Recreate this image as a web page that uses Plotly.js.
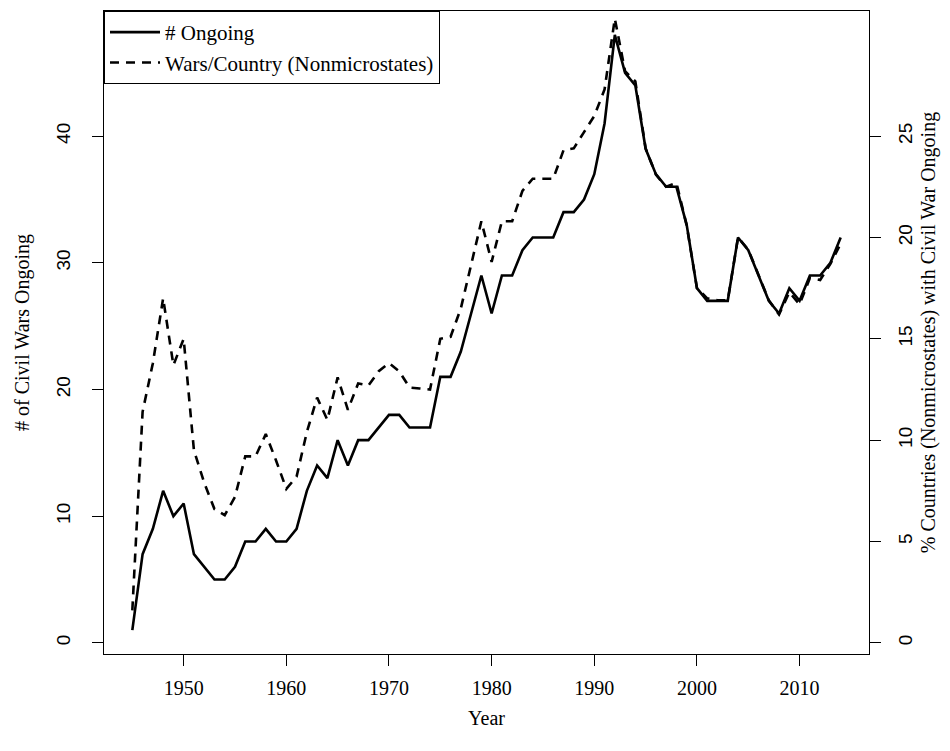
<!DOCTYPE html>
<html>
<head>
<meta charset="utf-8">
<script src="https://cdn.plot.ly/plotly-3.0.1.min.js"></script>
<style>html,body{margin:0;padding:0;background:#fff}#chart{width:950px;height:751px}</style>
</head>
<body>
<div id="chart"></div>
<script>
var years = [1945,1946,1947,1948,1949,1950,1951,1952,1953,1954,1955,1956,1957,1958,1959,1960,1961,1962,1963,1964,1965,1966,1967,1968,1969,1970,1971,1972,1973,1974,1975,1976,1977,1978,1979,1980,1981,1982,1983,1984,1985,1986,1987,1988,1989,1990,1991,1992,1993,1994,1995,1996,1997,1998,1999,2000,2001,2002,2003,2004,2005,2006,2007,2008,2009,2010,2011,2012,2013,2014];
var ongoing = [1,7,9,12,10,11,7,6,5,5,6,8,8,9,8,8,9,12,14,13,16,14,16,16,17,18,18,17,17,17,21,21,23,26,29,26,29,29,31,32,32,32,34,34,35,37,41,48,45,44,39,37,36,36,33,28,27,27,27,32,31,29,27,26,28,27,29,29,30,32];
var pctCountries = [1.6,11.4,13.8,17.0,13.7,15.0,9.5,7.9,6.6,6.3,7.2,9.2,9.2,10.3,9.0,7.6,8.2,10.4,12.1,11.0,13.1,11.5,12.8,12.7,13.4,13.8,13.4,12.6,12.55,12.5,15.0,15.1,16.5,18.7,20.8,18.8,20.8,20.8,22.3,22.9,22.9,22.9,24.3,24.4,25.2,26.0,27.3,30.8,28.2,27.7,24.4,23.1,22.5,22.7,20.6,17.5,17.0,16.9,16.9,20.0,19.4,18.1,16.9,16.2,17.3,16.7,18.0,17.9,18.7,19.7];
var xTicks = [1950,1960,1970,1980,1990,2000,2010];
var yTicksLeft = [0,10,20,30,40];
var yTicksRight = [0,5,10,15,20,25];

var serif = "'Liberation Serif', 'Times New Roman', serif";
var sans = "'Liberation Sans', Arial, sans-serif";

var traces = [
  {x: years, y: ongoing, type: 'scatter', mode: 'lines', name: '# Ongoing',
   line: {color: '#000', width: 2.6}, yaxis: 'y'},
  {x: years, y: pctCountries, type: 'scatter', mode: 'lines', name: 'Wars/Country (Nonmicrostates)',
   line: {color: '#000', width: 2.6, dash: '9px,7px'}, yaxis: 'y2'}
];

var layout = {
  width: 950, height: 751,
  margin: {l: 104, r: 81, t: 11, b: 97},
  paper_bgcolor: '#fff', plot_bgcolor: '#fff',
  font: {family: serif, size: 20, color: '#000'},
  showlegend: true,
  legend: {x: 0, y: 1, xanchor: 'left', yanchor: 'top', bgcolor: '#fff',
           bordercolor: '#000', borderwidth: 1, font: {family: serif, size: 21, color: '#000'},
           itemwidth: 50, tracegroupgap: 0},
  xaxis: {range: [1942.24, 2016.76], tickvals: xTicks, ticktext: xTicks.map(String),
          showgrid: false, zeroline: false, showline: true, mirror: true, linecolor: '#000', linewidth: 1.3,
          ticks: 'outside', ticklen: 11, tickcolor: '#000', tickwidth: 1,
          tickfont: {family: serif, size: 20, color: '#000'}, ticklabelstandoff: 5,
          title: {text: 'Year', font: {family: serif, size: 20, color: '#000'}, standoff: 12}},
  yaxis: {range: [-0.88, 49.88], tickvals: yTicksLeft, ticktext: yTicksLeft.map(String),
          showgrid: false, zeroline: false, showline: true, mirror: true, linecolor: '#000', linewidth: 1.3,
          ticks: 'outside', ticklen: 11, tickcolor: '#000', tickwidth: 1, tickangle: -90,
          tickfont: {family: sans, size: 19, color: '#000'}, ticklabelstandoff: 14,
          title: {text: '# of Civil Wars Ongoing', font: {family: serif, size: 20, color: '#000'}, standoff: 18}},
  yaxis2: {range: [-0.55, 31.175], overlaying: 'y', side: 'right', tickvals: yTicksRight, ticktext: yTicksRight.map(String),
          showgrid: false, zeroline: false, showline: true, linecolor: '#000', linewidth: 1.3,
          ticks: 'outside', ticklen: 11, tickcolor: '#000', tickwidth: 1, tickangle: -90,
          tickfont: {family: sans, size: 19, color: '#000'}, ticklabelstandoff: 8,
          title: {text: '% Countries (Nonmicrostates) with Civil War Ongoing', font: {family: serif, size: 20, color: '#000'}, standoff: 6}}
};

Plotly.newPlot('chart', traces, layout, {displayModeBar: false, staticPlot: true});
</script>
</body>
</html>
